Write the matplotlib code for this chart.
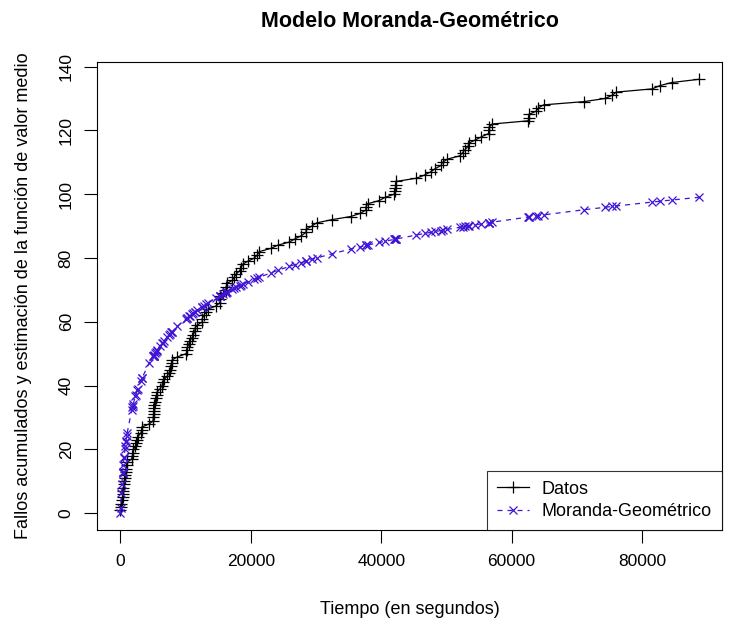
import matplotlib
matplotlib.use("Agg")
import matplotlib.pyplot as plt

plt.rcParams['font.family'] = ['Liberation Sans', 'DejaVu Sans']

# cumulative failure times (seconds) and failure counts
tiempos = [
    3, 33, 146, 227, 342, 351, 353, 444, 556, 571,
    709, 759, 836, 860, 968, 1056, 1726, 1846, 1872, 1986,
    2311, 2366, 2608, 2676, 3098, 3278, 3288, 4434, 5034, 5049,
    5085, 5089, 5089, 5097, 5324, 5389, 5565, 5623, 6080, 6380,
    6477, 6740, 7192, 7447, 7644, 7837, 7843, 7922, 8738, 10089,
    10237, 10258, 10491, 10625, 10982, 11175, 11411, 11442, 11811, 12559,
    12559, 12791, 13121, 13486, 14708, 15251, 15261, 15277, 15806, 16185,
    16229, 16358, 17168, 17458, 17758, 18287, 18568, 18728, 19556, 20567,
    21012, 21308, 23063, 24127, 25910, 26770, 27753, 28460, 28493, 29361,
    30085, 32408, 35338, 36799, 37642, 37654, 37915, 39715, 40580, 42015,
    42045, 42188, 42296, 42296, 45406, 46653, 47596, 48296, 49171, 49416,
    50145, 52042, 52489, 52875, 53321, 53443, 54433, 55381, 56463, 56485,
    56560, 57042, 62551, 62651, 62661, 63732, 64103, 64893, 71043, 74364,
    75409, 76057, 81542, 82702, 84566, 88682,
]
fallos = list(range(1, len(tiempos) + 1))

# estimated mean value function (Moranda-Geometric) at each failure time
estimacion = [
    0.16, 1.67, 6.44, 9.20, 12.51, 12.75, 12.80, 15.00, 17.39, 17.69,
    20.20, 21.03, 22.24, 22.60, 24.13, 25.29, 32.27, 33.27, 33.48, 34.38,
    36.70, 37.06, 38.58, 38.99, 41.32, 42.22, 42.27, 47.14, 49.24, 49.29,
    49.41, 49.42, 49.42, 49.45, 50.18, 50.38, 50.91, 51.09, 52.40, 53.21,
    53.46, 54.13, 55.23, 55.82, 56.26, 56.69, 56.70, 56.87, 58.54, 61.00,
    61.25, 61.29, 61.67, 61.89, 62.46, 62.76, 63.12, 63.17, 63.71, 64.77,
    64.77, 65.09, 65.53, 66.00, 67.50, 68.13, 68.14, 68.16, 68.75, 69.16,
    69.21, 69.35, 70.19, 70.48, 70.77, 71.29, 71.55, 71.70, 72.45, 73.33,
    73.71, 73.95, 75.33, 76.12, 77.37, 77.94, 78.57, 79.01, 79.03, 79.56,
    79.98, 81.29, 82.81, 83.52, 83.92, 83.92, 84.04, 84.86, 85.23, 85.85,
    85.86, 85.92, 85.96, 85.96, 87.21, 87.69, 88.04, 88.30, 88.61, 88.70,
    88.96, 89.61, 89.76, 89.89, 90.04, 90.08, 90.40, 90.71, 91.05, 91.05,
    91.08, 91.23, 92.85, 92.88, 92.88, 93.18, 93.28, 93.50, 95.10, 95.90,
    96.15, 96.30, 97.53, 97.78, 98.17, 99.01,
]

azul = '#4014d4'

fig = plt.figure(figsize=(7.41, 6.25), dpi=100)
ax = fig.add_axes([0.1313, 0.152, 0.8427, 0.7488])

ax.plot(tiempos, fallos, color='black', linewidth=0.9, marker='+',
        markersize=8, markeredgewidth=0.9, label='Datos')
ax.plot(tiempos, estimacion, color=azul, linewidth=0.9, linestyle=(0, (4, 4)),
        marker='x', markersize=5.5, markeredgewidth=0.9, label='Moranda-Geométrico')

# R-style 4% padding around the data range
x0, x1 = min(tiempos), max(tiempos)
y0, y1 = min(min(fallos), min(estimacion)), max(max(fallos), max(estimacion))
ax.set_xlim(x0 - 0.04 * (x1 - x0), x1 + 0.04 * (x1 - x0))
ax.set_ylim(y0 - 0.04 * (y1 - y0), y1 + 0.04 * (y1 - y0))

ax.set_xticks([0, 20000, 40000, 60000, 80000])
ax.set_yticks(range(0, 141, 20))
ax.tick_params(labelsize=12.5, length=9.5, width=0.8, pad=7.5)
for lbl in ax.get_yticklabels():
    lbl.set_rotation(90)
    lbl.set_va('center')
for s in ax.spines.values():
    s.set_linewidth(0.8)

ax.set_title('Modelo Moranda-Geométrico', fontsize=15.5, fontweight='bold', pad=25)
ax.set_xlabel('Tiempo (en segundos)', fontsize=13, labelpad=23)
ax.set_ylabel('Fallos acumulados y estimación de la función de valor medio',
              fontsize=13, labelpad=19)

leg = ax.legend(loc='lower right', fontsize=13, frameon=True, fancybox=False,
                borderaxespad=0, handlelength=1.8, borderpad=0.55, labelspacing=0.3,
                handletextpad=0.7)
leg.get_frame().set_edgecolor('black')
leg.get_frame().set_linewidth(0.8)

fig.savefig('out.png', dpi=100)
